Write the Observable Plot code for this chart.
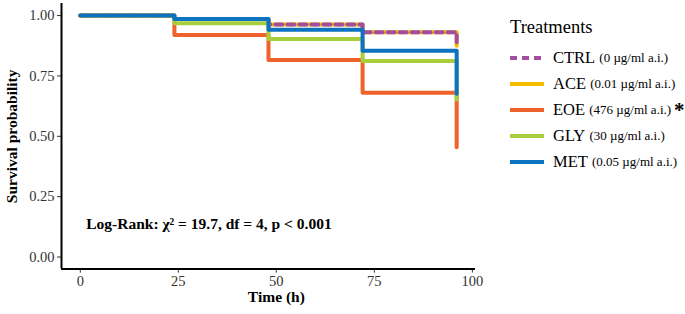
<!DOCTYPE html>
<html>
<head>
<meta charset="utf-8">
<script src="https://cdn.jsdelivr.net/npm/d3@7"></script>
<script src="https://cdn.jsdelivr.net/npm/@observablehq/plot@0.6"></script>
<style>
  body { margin: 0; background: #fff; }
  #wrap { position: relative; width: 685px; height: 314px; font-family: "Liberation Serif", serif; }
  #wrap svg { font-family: "Liberation Serif", serif; }
  g[aria-label="y-axis tick label"] text, g[aria-label="x-axis tick label"] text { fill: #333; }
  #legend { position: absolute; left: 510px; top: 17px; color: #000; }
  #legend .title { font-size: 18.5px; margin-bottom: 7px; }
  #legend .row { display: flex; align-items: center; height: 26px; }
  #legend .row svg { width: 36px; height: 10px; margin-right: 7px; }
  #legend .name { font-size: 16.5px; }
  #legend .dose { font-size: 13px; }
  #legend .star { font-size: 21px; font-weight: bold; margin-left: 3px; }
</style>
</head>
<body>
<div id="wrap"></div>
<script>
const times = [0, 24, 48, 72, 96];
const treatments = ["CTRL", "ACE", "EOE", "GLY", "MET"];
const doses = ["(0 µg/ml a.i.)", "(0.01 µg/ml a.i.)", "(476 µg/ml a.i.)", "(30 µg/ml a.i.)", "(0.05 µg/ml a.i.)"];
const colors = ["#a24d9f", "#f2bd00", "#f0622b", "#a8cf3b", "#0d72c0"];
const CTRL = [1, 0.986, 0.963, 0.931, 0.875];
const ACE  = [1, 0.986, 0.963, 0.931, 0.875];
const EOE  = [1, 0.920, 0.816, 0.680, 0.455];
const GLY  = [1, 0.968, 0.903, 0.812, 0.652];
const MET  = [1, 0.986, 0.941, 0.854, 0.676];
const xTicks = [0, 25, 50, 75, 100];
const yTicks = [0, 0.25, 0.5, 0.75, 1];
const annotation = "Log-Rank: χ² = 19.7, df = 4, p < 0.001";

const series = {CTRL, ACE, EOE, GLY, MET};
const rows = name => times.map((t, i) => ({time: t, surv: series[name][i], group: name}));
const col = name => colors[treatments.indexOf(name)];

const lineMark = (name, extra = {}) => Plot.line(rows(name), {
  x: "time", y: "surv", curve: "step-after", stroke: col(name), strokeWidth: 4, ...extra
});

const chart = Plot.plot({
  width: 685, height: 314,
  marginLeft: 61, marginRight: 210, marginTop: 3, marginBottom: 45.4,
  style: {fontFamily: "Liberation Serif, serif", fontSize: "14.5px", background: "#fff"},
  x: {domain: [-4.8, 100.8]},
  y: {domain: [-0.05, 1.05]},
  marks: [
    Plot.axisY({ticks: yTicks, tickFormat: d3.format(".2f"), tickSize: 4, tickPadding: 3, stroke: "#333", fontSize: 14.5, label: null}),
    Plot.axisX({ticks: xTicks, tickFormat: d => d, tickSize: 4, tickPadding: 3, stroke: "#333", fontSize: 14.5, label: null}),
    Plot.ruleX([-4.8], {stroke: "#000", strokeWidth: 2}),
    Plot.ruleY([-0.05], {stroke: "#000", strokeWidth: 2}),
    lineMark("ACE"),
    lineMark("CTRL", {strokeDasharray: "7,5"}),
    lineMark("EOE"),
    lineMark("GLY"),
    lineMark("MET"),
    Plot.text([annotation], {x: 1.5, y: 0.135, text: d => d, textAnchor: "start", fontWeight: "bold", fontSize: 15.5, fill: "#000"}),
    Plot.text(["Time (h)"], {x: 50, frameAnchor: "bottom", dy: 33, text: d => d, fontWeight: "bold", fontSize: 15.5, fill: "#000"}),
    Plot.text(["Survival probability"], {y: 0.5, frameAnchor: "left", textAnchor: "middle", dx: -49, rotate: -90, text: d => d, fontWeight: "bold", fontSize: 15.5, fill: "#000"})
  ]
});

const wrap = document.getElementById("wrap");
wrap.appendChild(chart);

const legend = document.createElement("div");
legend.id = "legend";
let html = '<div class="title">Treatments</div>';
treatments.forEach((t, i) => {
  const dash = t === "CTRL" ? 'stroke-dasharray="7,5"' : '';
  html += `<div class="row"><svg><line x1="0" x2="34" y1="5" y2="5" stroke="${colors[i]}" stroke-width="4" ${dash}/></svg>` +
    `<span class="name">${t}&nbsp;</span><span class="dose">${doses[i]}</span>` +
    (t === "EOE" ? '<span class="star">*</span>' : '') + '</div>';
});
legend.innerHTML = html;
wrap.appendChild(legend);
</script>
</body>
</html>
